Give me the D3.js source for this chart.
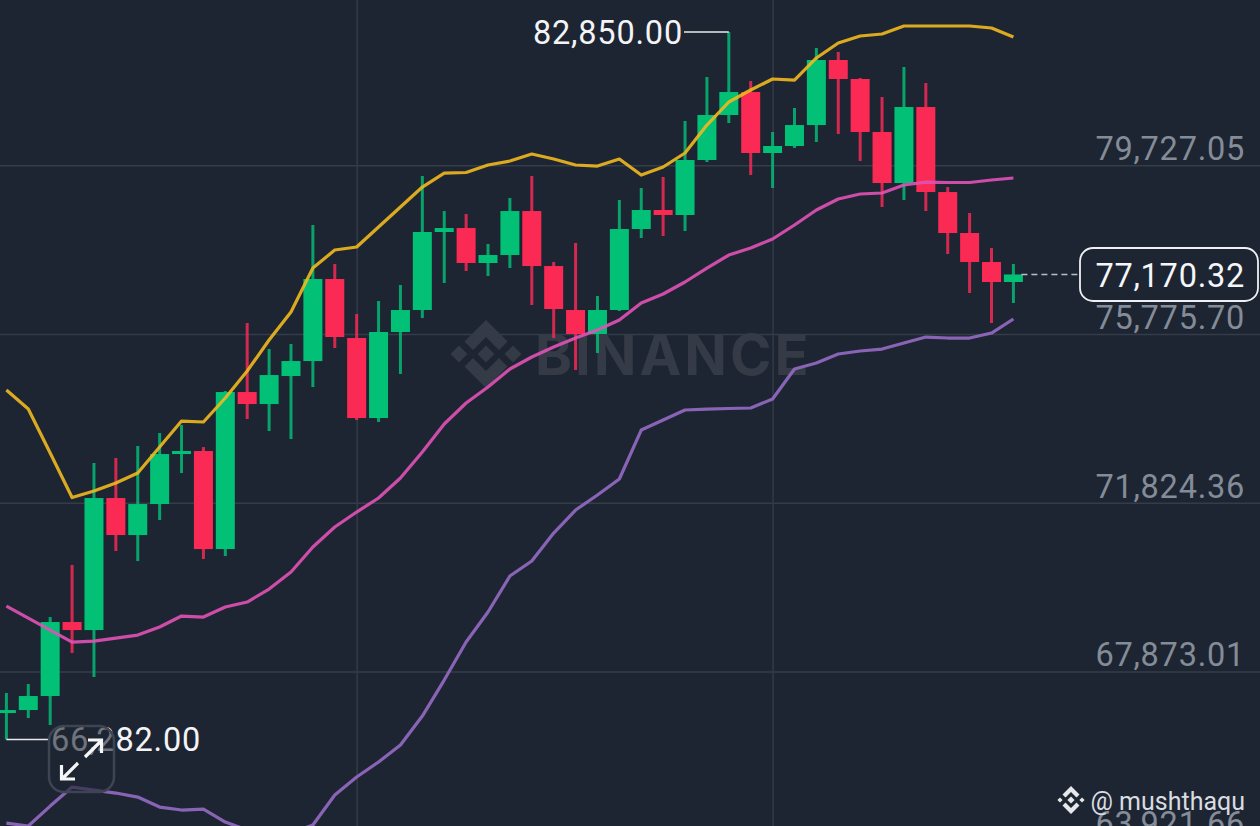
<!DOCTYPE html>
<html>
<head>
<meta charset="utf-8">
<style>
  html, body { margin: 0; padding: 0; background: #1e2532; overflow: hidden; }
  svg { display: block; }
  .price text { font-family: Roboto, sans-serif; }
</style>
<script src="https://cdn.jsdelivr.net/npm/d3@7"></script>
</head>
<body>
<div id="chart"></div>
<script>
// candles, oldest first
const opens = [66900,66970,67298,69031,68843,71935,71068,71794,72965,73036,70740,74417,74136,74792,75143,77064,75682,73808,75823,76338,78165,78258,77439,77626,78656,77368,76338,75776,76338,78235,78680,78563,79851,80905,81443,80015,80179,80670,82193,81748,80507,79312,81092,79101,78141,77462,76994];
const highs = [67368,67579,69148,70366,72755,72872,73153,73457,73644,73129,74441,76033,75424,75542,78329,77415,76244,76549,76923,79476,78656,78586,77884,78961,79476,77462,77907,76666,78914,79195,79453,80764,81795,82850,81701,80507,81069,82474,82380,81771,81326,82029,81654,79218,78610,77790,77415];
const lows = [66282,66782,66619,68305,67743,70694,70459,71420,72520,70506,70576,73785,73504,73317,74534,75448,73762,73715,74839,76150,76970,77251,77134,77321,76455,75682,74933,75331,76315,78024,78071,78188,79804,80717,79499,79195,80132,80272,80460,79827,78750,78914,78656,77649,76736,76033,76502];
const closes = [66970,67298,69031,68843,71935,71068,71794,72965,73036,70740,74417,74136,74815,75143,77064,75705,73808,75823,76338,78165,78258,77439,77626,78656,77368,76361,75776,76338,78235,78680,78563,79851,80905,81443,80015,80179,80670,82193,81748,80507,79312,81092,79101,78141,77462,76994,77170.32];

// bollinger bands
const upperBand = [74464,74019,72989,71947,72099,72286,72520,73129,73738,73715,74277,74909,75635,76291,77321,77743,77813,78282,78750,79218,79546,79558,79734,79827,79991,79874,79734,79710,79874,79499,79687,80015,80670,81209,81490,81748,81724,82240,82591,82755,82802,82989,82989,82989,82989,82942,82731];
const middleBand = [69405,69124,68843,68562,68585,68655,68726,68914,69171,69148,69382,69499,69804,70202,70787,71256,71607,71935,72403,73012,73668,74160,74534,74956,75237,75471,75682,75869,76104,76502,76713,76994,77321,77626,77790,78001,78329,78680,78937,79055,79078,79265,79335,79324,79324,79382,79429];
const lowerBand = [64323,64253,64721,65166,65096,65026,64932,64698,64628,64651,64347,64160,64067,64090,64277,64979,65401,65752,66150,66829,67672,68562,69265,70108,70459,71115,71654,72005,72380,73527,73762,73996,74019,74031,74043,74253,74956,75096,75307,75378,75424,75565,75705,75682,75682,75799,76127];

const priceTicks = [79727.05,75775.70,71824.36,67873.01,63921.66];
const timeTicks = [16,35];
const lastPrice = 77170.32;
const highPrice = 82850;
const highIndex = 33;
const lowPrice = 66282;
const lowIndex = 0;

const width = 1260, height = 826;
const green = '#02c076', red = '#fb2a55', bg = '#1e2532';

const x = d3.scaleLinear().domain([0, 46]).range([6.4, 1013.4]);
const y = d3.scaleLinear().domain([63921.66, 79727.05]).range([840.2, 165.3]);
const fmt = d3.format(',.2f');

const svg = d3.select('#chart').append('svg').attr('width', width).attr('height', height);
svg.append('rect').attr('width', width).attr('height', height).attr('fill', bg);

// grid
const gridY = svg.append('g').call(d3.axisRight(y).tickValues(priceTicks).tickSize(width).tickFormat(''));
const gridX = svg.append('g').attr('transform', `translate(0,${height})`)
  .call(d3.axisTop(x).tickValues(timeTicks).tickSize(height).tickFormat(''));
[gridY, gridX].forEach(g => {
  g.select('.domain').remove();
  g.selectAll('line').attr('stroke', '#343c49').attr('stroke-width', 1.4);
});

// watermark
const mark = svg.append('g').attr('fill', '#343b47');
const logo = mark.append('g').attr('transform', 'translate(486,354)');
const diamond = (g, cx, cy, r) => g.append('path').attr('d', `M${cx},${cy - r}L${cx + r},${cy}L${cx},${cy + r}L${cx - r},${cy}Z`);
diamond(logo, 0, 0, 8.5);
diamond(logo, -27, 0, 8.5);
diamond(logo, 27, 0, 8.5);
logo.append('path').attr('d', 'M0,-34L21.5,-12.5L13,-4L0,-17L-13,-4L-21.5,-12.5Z');
logo.append('path').attr('d', 'M0,34L21.5,12.5L13,4L0,17L-13,4L-21.5,12.5Z');
mark.append('text').attr('x', 535).attr('y', 375)
  .attr('font-family', 'Inter, Roboto, sans-serif').attr('font-weight', 700)
  .attr('font-size', 56).attr('letter-spacing', 3).text('BINANCE');

// candles
const idx = d3.range(closes.length);
const candles = svg.append('g').selectAll('g').data(idx).join('g')
  .attr('fill', i => closes[i] >= opens[i] ? green : red)
  .attr('stroke', i => closes[i] >= opens[i] ? green : red);
candles.append('line')
  .attr('x1', i => x(i)).attr('x2', i => x(i))
  .attr('y1', i => y(highs[i])).attr('y2', i => y(lows[i]))
  .attr('stroke-width', 3).attr('stroke-opacity', 0.82);
candles.append('rect')
  .attr('x', i => x(i) - 9.5).attr('width', 19)
  .attr('y', i => y(Math.max(opens[i], closes[i])))
  .attr('height', i => Math.max(3, Math.abs(y(opens[i]) - y(closes[i]))))
  .attr('stroke', 'none');

// bands
const line = d3.line().x((d, i) => x(i)).y(d => y(d));
[[lowerBand, '#956cc4'], [middleBand, '#e052b6'], [upperBand, '#f0b91f']].forEach(([s, c]) => {
  svg.append('path').attr('d', line(s)).attr('fill', 'none').attr('stroke', c)
    .attr('stroke-width', 3.2).attr('stroke-opacity', 0.9).attr('stroke-linejoin', 'round');
});

// price axis labels
const priceAxis = svg.append('g').attr('class', 'price').attr('transform', `translate(${width - 15},0)`)
  .call(d3.axisLeft(y).tickValues(priceTicks).tickSize(0).tickPadding(0).tickFormat(fmt));
priceAxis.select('.domain').remove();
priceAxis.selectAll('text').attr('fill', '#848c98').attr('font-size', 32.5).attr('letter-spacing', 0.75)
  .attr('y', -16.5).attr('dy', 11);

// high and low markers
const marker = svg.append('g').attr('fill', 'none').attr('stroke', '#e8eaed').attr('stroke-width', 1.5);
marker.append('path').attr('d', `M${x(highIndex)},${y(highPrice)}H684`);
marker.append('path').attr('d', `M${x(lowIndex)},${y(lowPrice)}H50`);
const label = (px, py, anchor, t) => svg.append('text').attr('x', px).attr('y', py).attr('text-anchor', anchor)
  .attr('font-family', 'Roboto, sans-serif').attr('font-size', 32.5).attr('letter-spacing', 0.8)
  .attr('fill', '#f3f4f6').text(t);
label(683, 44, 'end', fmt(highPrice));
label(51, 751, 'start', fmt(lowPrice));

// last price
svg.append('line').attr('x1', x(46) + 8).attr('x2', 1080).attr('y1', y(lastPrice)).attr('y2', y(lastPrice))
  .attr('stroke', '#b9bec6').attr('stroke-width', 1.6).attr('stroke-dasharray', '6 4');
svg.append('rect').attr('x', 1080).attr('y', 248).attr('width', 178).attr('height', 53).attr('rx', 13)
  .attr('fill', bg).attr('stroke', '#eef0f2').attr('stroke-width', 1.8);
svg.append('text').attr('x', 1245).attr('y', 287).attr('text-anchor', 'end')
  .attr('font-family', 'Roboto, sans-serif').attr('font-size', 32.5).attr('letter-spacing', 0.75)
  .attr('fill', '#f5f6f7').text(fmt(lastPrice));

// expand button
svg.append('rect').attr('x', 49).attr('y', 726).attr('width', 65).attr('height', 66).attr('rx', 15)
  .attr('fill', bg).attr('fill-opacity', 0.62).attr('stroke', '#3d4552').attr('stroke-width', 2.5);
const arrows = svg.append('g').attr('fill', 'none').attr('stroke', '#f4f5f6').attr('stroke-width', 3.2);
arrows.append('path').attr('d', 'M85,757L101,741M88,740H101.5V753');
arrows.append('path').attr('d', 'M78,763L62,779M75,779H61.5V765');

// user tag
const tag = svg.append('g').attr('transform', 'translate(1071,800)').attr('fill', '#e6e8eb');
diamond(tag, 0, 0, 3.6);
diamond(tag, -11, 0, 2.6);
diamond(tag, 11, 0, 2.6);
tag.append('path').attr('d', 'M0,-14L8.5,-5.5L5.5,-2.5L0,-8L-5.5,-2.5L-8.5,-5.5Z');
tag.append('path').attr('d', 'M0,14L8.5,5.5L5.5,2.5L0,8L-5.5,2.5L-8.5,5.5Z');
svg.append('text').attr('x', 1245).attr('y', 810).attr('text-anchor', 'end')
  .attr('font-family', 'Roboto, sans-serif').attr('font-size', 25)
  .attr('fill', '#d9dce0').text('@ mushthaqu');
</script>
</body>
</html>
